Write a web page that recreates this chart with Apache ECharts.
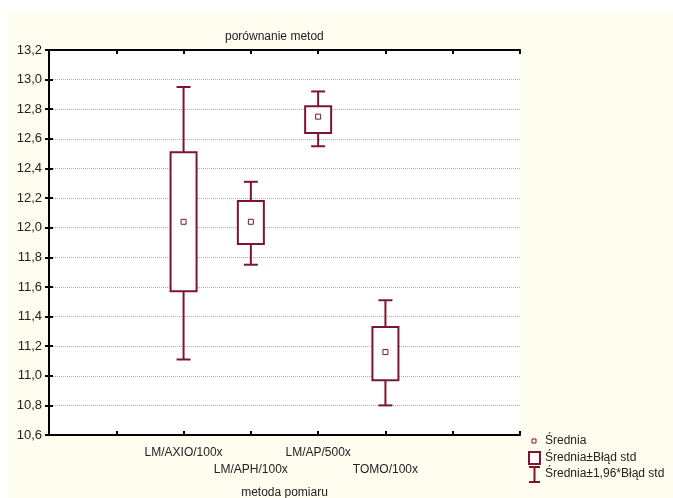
<!DOCTYPE html>
<html>
<head>
<meta charset="utf-8">
<script src="https://cdn.jsdelivr.net/npm/echarts@6/dist/echarts.min.js"></script>
<style>
  html, body { margin: 0; padding: 0; background: #fff; }
  #chart { width: 673px; height: 498px; }
</style>
</head>
<body>
<div id="chart"></div>
<script>
// kategorie i ich pozycje na osi X (oś ma 7 przedziałów)
const categories = ['LM/AXIO/100x', 'LM/APH/100x', 'LM/AP/500x', 'TOMO/100x']
const catPos = [2, 3, 4, 5]

// średnia, średnia ± błąd std, średnia ± 1,96*błąd std
const means = [12.04, 12.04, 12.75, 11.16]
const boxLow = [11.57, 11.89, 12.64, 10.97]
const boxHigh = [12.51, 12.18, 12.82, 11.33]
const whiskLow = [11.11, 11.75, 12.55, 10.80]
const whiskHigh = [12.95, 12.31, 12.92, 11.51]

const legendLabels = ['Średnia', 'Średnia±Błąd std', 'Średnia±1,96*Błąd std']

const color = '#7d1430'
const font = "'Liberation Sans', Arial, sans-serif"
const textColor = '#222'

const chart = echarts.init(document.getElementById('chart'))

const renderBox = (params, api) => {
  const x = api.value(0)
  const p = v => api.coord([x, v])
  const mean = p(api.value(1))
  const bLo = p(api.value(2))
  const bHi = p(api.value(3))
  const wLo = p(api.value(4))
  const wHi = p(api.value(5))
  const cx = mean[0]
  const bw = 13, cw = 7, ms = 2.5
  const line = (x1, y1, x2, y2) => ({
    type: 'line',
    shape: { x1, y1, x2, y2 },
    style: { stroke: color, lineWidth: 2 }
  })
  return {
    type: 'group',
    children: [
      line(cx, wHi[1], cx, wLo[1]),
      line(cx - cw, wHi[1], cx + cw, wHi[1]),
      line(cx - cw, wLo[1], cx + cw, wLo[1]),
      {
        type: 'rect',
        shape: { x: cx - bw, y: bHi[1], width: 2 * bw, height: bLo[1] - bHi[1] },
        style: { fill: '#fff', stroke: color, lineWidth: 2 }
      },
      {
        type: 'rect',
        shape: { x: cx - ms, y: mean[1] - ms, width: 2 * ms, height: 2 * ms },
        style: { fill: '#fff', stroke: color, lineWidth: 1 }
      }
    ]
  }
}

const axisLine = { show: true, lineStyle: { color: '#000', width: 2 } }
const axisTick = { show: true, inside: true, length: 4, lineStyle: { color: '#000', width: 2 } }

const option = {
  backgroundColor: '#fffcf0',
  animation: false,
  title: {
    text: 'porównanie metod',
    left: 220,
    top: 26,
    textStyle: { fontFamily: font, fontSize: 12, fontWeight: 'normal', color: textColor }
  },
  grid: {
    left: 49, top: 50, right: 153, bottom: 63,
    outerBoundsMode: 'none',
    containLabel: false,
    show: true,
    backgroundColor: '#fff',
    borderWidth: 0
  },
  xAxis: [
    {
      type: 'value',
      position: 'bottom',
      min: 0, max: 7, interval: 1,
      axisLine, axisTick,
      splitLine: { show: false },
      name: 'metoda pomiaru',
      nameLocation: 'middle',
      nameGap: 52,
      nameTextStyle: { fontFamily: font, fontSize: 12, color: textColor },
      axisLabel: {
        margin: 9,
        fontFamily: font,
        fontSize: 12,
        color: textColor,
        lineHeight: 17,
        formatter: v => {
          const i = catPos.indexOf(v)
          if (i < 0) return ''
          return i % 2 ? '\n' + categories[i] : categories[i]
        }
      }
    },
    {
      type: 'value',
      position: 'top',
      min: 0, max: 7, interval: 1,
      axisLine, axisTick,
      splitLine: { show: false },
      axisLabel: { show: false }
    }
  ],
  yAxis: [
    {
      type: 'value',
      position: 'left',
      min: 10.6, max: 13.2, interval: 0.2,
      axisLine, axisTick,
      splitLine: { show: true, lineStyle: { type: 'dotted', color: '#aaa', width: 1 } },
      axisLabel: {
        margin: 7,
        fontFamily: font,
        fontSize: 13,
        color: textColor,
        formatter: v => v.toFixed(1).replace('.', ',')
      }
    },
    {
      type: 'value',
      position: 'right',
      min: 10.6, max: 13.2, interval: 0.2,
      axisLine, axisTick,
      splitLine: { show: false },
      axisLabel: { show: false }
    }
  ],
  graphic: [
    // biały margines u góry i z lewej
    { type: 'rect', left: 0, top: 0, shape: { width: 673, height: 10 }, style: { fill: '#fff' } },
    { type: 'rect', left: 0, top: 0, shape: { width: 8, height: 498 }, style: { fill: '#fff' } },
    // legenda
    { type: 'rect', shape: { x: 532, y: 439, width: 4, height: 4 }, style: { fill: '#fff', stroke: color, lineWidth: 1 } },
    { type: 'rect', shape: { x: 529, y: 452, width: 11, height: 12 }, style: { fill: '#fff', stroke: color, lineWidth: 2 } },
    { type: 'line', shape: { x1: 534.5, y1: 467, x2: 534.5, y2: 482 }, style: { stroke: color, lineWidth: 2 } },
    { type: 'line', shape: { x1: 529, y1: 467, x2: 540, y2: 467 }, style: { stroke: color, lineWidth: 2 } },
    { type: 'line', shape: { x1: 529, y1: 482, x2: 540, y2: 482 }, style: { stroke: color, lineWidth: 2 } },
    ...legendLabels.map((t, i) => ({
      type: 'text',
      x: 545,
      y: 441 + i * 16.5,
      style: { text: t, fill: textColor, font: '12px ' + font, textVerticalAlign: 'middle' }
    }))
  ],
  series: [
    {
      type: 'custom',
      renderItem: renderBox,
      clip: false,
      encode: { x: 0, y: [1, 2, 3, 4, 5] },
      data: catPos.map((x, i) => [x, means[i], boxLow[i], boxHigh[i], whiskLow[i], whiskHigh[i]])
    }
  ]
}

chart.setOption(option)
</script>
</body>
</html>
